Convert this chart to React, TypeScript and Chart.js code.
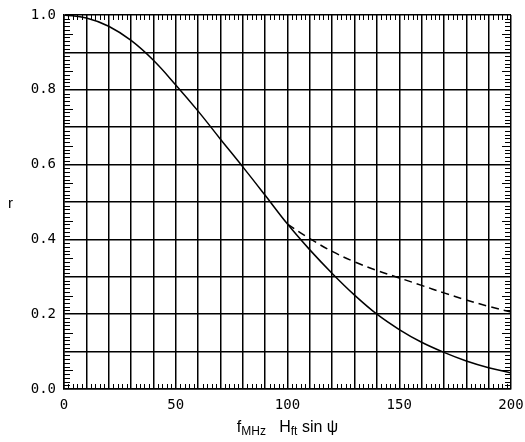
import React, { useEffect, useRef } from "react";
import { Chart, registerables } from "chart.js";

Chart.register(...registerables);

const xValues = [0, 10, 20, 30, 40, 50, 60, 70, 80, 90, 100, 110, 120, 130, 140, 150, 160, 170, 180, 190, 200];
const solidR = [1.0, 0.992, 0.97, 0.932, 0.879, 0.813, 0.743, 0.668, 0.594, 0.518, 0.441, 0.372, 0.309, 0.251, 0.2, 0.159, 0.125, 0.098, 0.075, 0.057, 0.043];
const dashedX = [100, 110, 120, 130, 140, 150, 160, 170, 180, 190, 200];
const dashedR = [0.441, 0.402, 0.368, 0.34, 0.317, 0.297, 0.277, 0.257, 0.238, 0.221, 0.206];
const xLabels = [0, 50, 100, 150, 200];
const yLabels = [0, 0.2, 0.4, 0.6, 0.8, 1.0];
const yAxisTitle = "r";
const xTitleParts: [string, boolean][] = [
  ["f", false],
  ["MHz", true],
  ["   H", false],
  ["ft", true],
  [" sin ψ", false],
];

const FONT = "'Liberation Sans', 'DejaVu Sans', sans-serif";
const TICK_FONT = "'DejaVu Sans Mono', 'Liberation Mono', monospace";

const decorPlugin = {
  id: "decor",
  afterDraw(chart: any) {
    const ctx = chart.ctx;
    const area = chart.chartArea;
    const xs = chart.scales.x;
    const ys = chart.scales.y;
    ctx.save();
    ctx.strokeStyle = "#000";
    ctx.lineWidth = 1;
    for (let v = 0; v <= 200; v += 2) {
      if (v % 10 === 0) continue;
      const px = Math.round(xs.getPixelForValue(v)) + 0.5;
      const len = 5;
      ctx.beginPath();
      ctx.moveTo(px, area.bottom);
      ctx.lineTo(px, area.bottom - len);
      ctx.moveTo(px, area.top);
      ctx.lineTo(px, area.top + len);
      ctx.stroke();
    }
    for (let i = 0; i <= 100; i++) {
      if (i % 10 === 0) continue;
      const py = Math.round(ys.getPixelForValue(i / 100)) + 0.5;
      const len = i % 5 === 0 ? 9 : 6;
      ctx.beginPath();
      ctx.moveTo(area.left, py);
      ctx.lineTo(area.left + len, py);
      ctx.moveTo(area.right, py);
      ctx.lineTo(area.right - len, py);
      ctx.stroke();
    }
    ctx.fillStyle = "#000";
    ctx.font = `15px ${FONT}`;
    ctx.textAlign = "left";
    ctx.textBaseline = "alphabetic";
    ctx.fillText(yAxisTitle, 8, 208);
    const mainFont = `16px ${FONT}`;
    const subFont = `12px ${FONT}`;
    let total = 0;
    for (const [t, sub] of xTitleParts) {
      ctx.font = sub ? subFont : mainFont;
      total += ctx.measureText(t).width;
    }
    let x = (area.left + area.right) / 2 - total / 2;
    const base = 432;
    for (const [t, sub] of xTitleParts) {
      ctx.font = sub ? subFont : mainFont;
      ctx.fillText(t, x, sub ? base + 3 : base);
      x += ctx.measureText(t).width;
    }
    ctx.restore();
  },
};

export default function App() {
  const ref = useRef<HTMLCanvasElement | null>(null);
  useEffect(() => {
    document.body.style.margin = "0";
    const canvas = ref.current!;
    const chart = new Chart(canvas, {
      type: "line",
      data: {
        datasets: [
          {
            data: xValues.map((x, i) => ({ x, y: solidR[i] })),
            borderColor: "#000",
            borderWidth: 1.5,
            pointRadius: 0,
            tension: 0.4,
            fill: false,
          },
          {
            data: dashedX.map((x, i) => ({ x, y: dashedR[i] })),
            borderColor: "#000",
            borderWidth: 1.5,
            borderDash: [8, 5],
            pointRadius: 0,
            tension: 0.4,
            fill: false,
          },
        ],
      },
      options: {
        responsive: false,
        animation: false,
        layout: { padding: { top: 15, right: 14, left: 0, bottom: 0 } },
        plugins: { legend: { display: false }, tooltip: { enabled: false } },
        scales: {
          x: {
            type: "linear",
            min: 0,
            max: 200,
            afterFit: (s: any) => {
              s.height = 53;
              s.paddingLeft = 0;
              s.paddingRight = 0;
            },
            grid: { color: "#000", lineWidth: 1.5, drawTicks: false },
            border: { color: "#000", width: 1.5 },
            ticks: {
              stepSize: 10,
              autoSkip: false,
              maxRotation: 0,
              padding: 8,
              color: "#000",
              font: { family: TICK_FONT, size: 14 },
              callback: (v: any) => (xLabels.includes(Number(v)) ? String(v) : ""),
            },
          },
          y: {
            type: "linear",
            min: 0,
            max: 1,
            afterFit: (s: any) => {
              s.width = 64;
              s.paddingTop = 0;
              s.paddingBottom = 0;
            },
            grid: { color: "#000", lineWidth: 1.5, drawTicks: false },
            border: { color: "#000", width: 1.5 },
            ticks: {
              stepSize: 0.1,
              autoSkip: false,
              padding: 8,
              color: "#000",
              font: { family: TICK_FONT, size: 14 },
              callback: (v: any) => {
                const n = Number(v);
                return yLabels.some((l) => Math.abs(l - n) < 1e-6) ? n.toFixed(1) : "";
              },
            },
          },
        },
      },
      plugins: [decorPlugin],
    } as any);
    return () => chart.destroy();
  }, []);
  return <canvas ref={ref} width={525} height={442} />;
}
